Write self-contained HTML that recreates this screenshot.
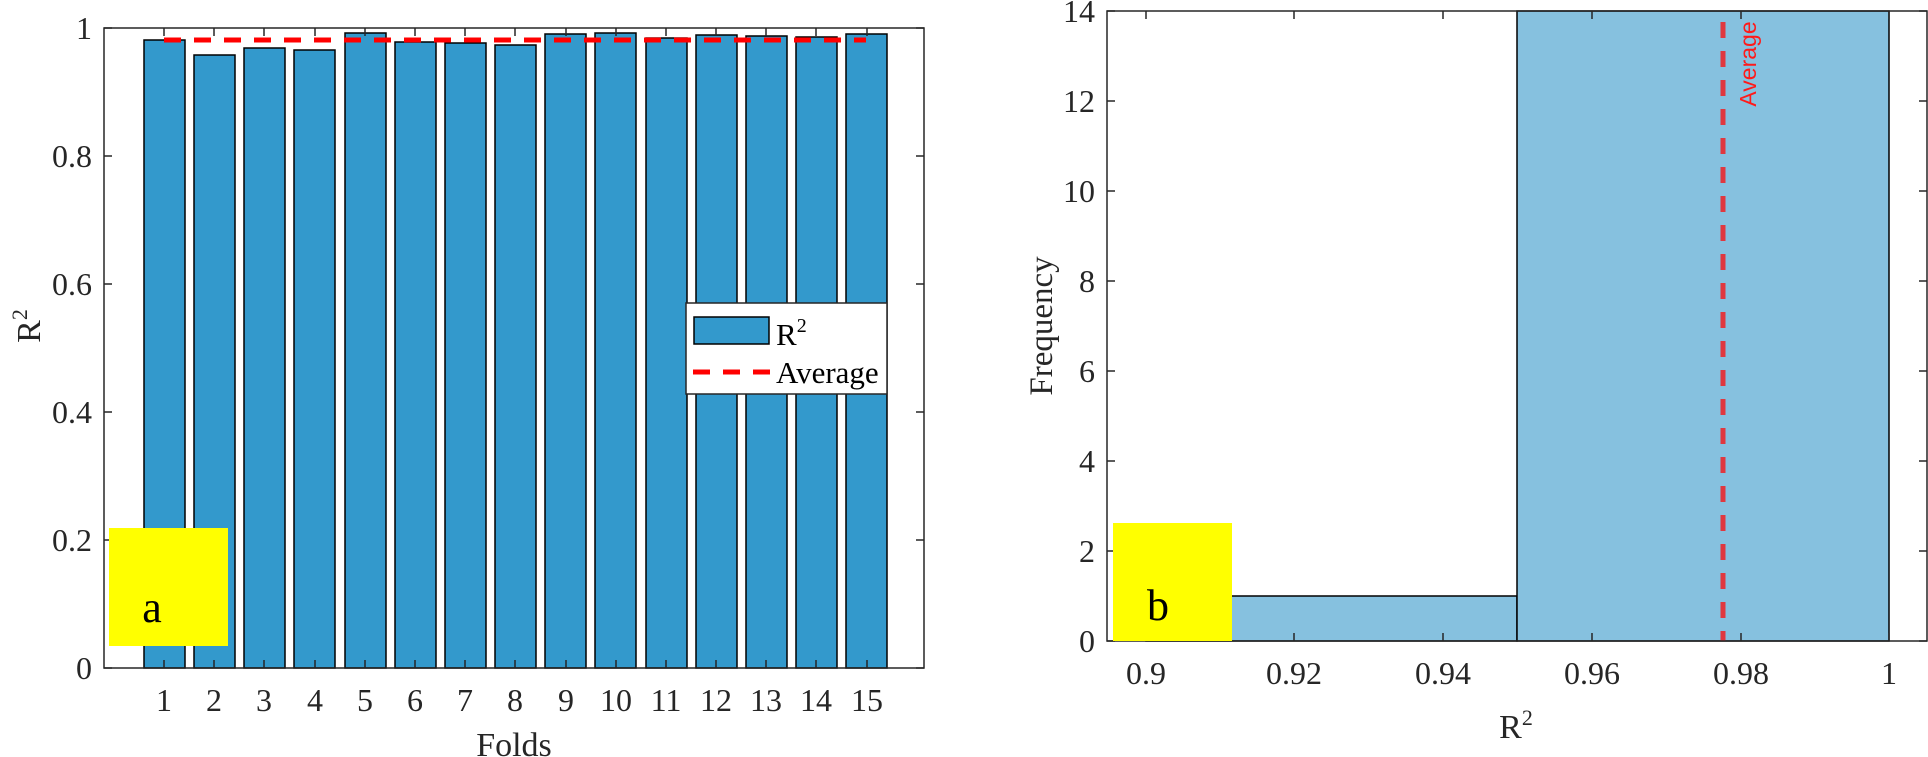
<!DOCTYPE html>
<html><head><meta charset="utf-8"><style>html,body{margin:0;padding:0;background:#fff}svg{display:block}</style></head>
<body>
<svg width="1928" height="757" viewBox="0 0 1928 757" xmlns="http://www.w3.org/2000/svg" font-family="Liberation Serif, serif" fill="#262626">
<!-- LEFT CHART -->
<g stroke="#000" stroke-width="1.5" fill="#3399cc">
<rect x="144" y="40" width="41" height="628"/>
<rect x="194" y="55" width="41" height="613"/>
<rect x="244" y="48" width="41" height="620"/>
<rect x="294" y="50" width="41" height="618"/>
<rect x="345" y="33" width="41" height="635"/>
<rect x="395" y="42" width="41" height="626"/>
<rect x="445" y="43" width="41" height="625"/>
<rect x="495" y="45" width="41" height="623"/>
<rect x="545" y="34" width="41" height="634"/>
<rect x="595" y="33" width="41" height="635"/>
<rect x="646" y="38" width="41" height="630"/>
<rect x="696" y="35" width="41" height="633"/>
<rect x="746" y="36" width="41" height="632"/>
<rect x="796" y="37" width="41" height="631"/>
<rect x="846" y="34" width="41" height="634"/>
</g>
<line x1="164" y1="40" x2="866" y2="40" stroke="#ff0000" stroke-width="5" stroke-dasharray="17,13"/>
<rect x="104" y="28" width="820" height="640" fill="none" stroke="#262626" stroke-width="1.5"/>
<g stroke="#262626" stroke-width="1.5">
<path d="M104 668h8M104 540h8M104 412h8M104 284h8M104 156h8M104 28h8M924 668h-8M924 540h-8M924 412h-8M924 284h-8M924 156h-8M924 28h-8"/>
<path d="M164 668v-8M214 668v-8M264 668v-8M315 668v-8M365 668v-8M415 668v-8M465 668v-8M515 668v-8M566 668v-8M616 668v-8M666 668v-8M716 668v-8M766 668v-8M816 668v-8M867 668v-8"/>
<path d="M164 28v8M214 28v8M264 28v8M315 28v8M365 28v8M415 28v8M465 28v8M515 28v8M566 28v8M616 28v8M666 28v8M716 28v8M766 28v8M816 28v8M867 28v8"/>
</g>
<g font-size="32" text-anchor="end">
<text x="92" y="679">0</text><text x="92" y="551">0.2</text><text x="92" y="423">0.4</text><text x="92" y="295">0.6</text><text x="92" y="167">0.8</text><text x="92" y="39">1</text>
</g>
<g font-size="32" text-anchor="middle">
<text x="164" y="711">1</text><text x="214" y="711">2</text><text x="264" y="711">3</text><text x="315" y="711">4</text><text x="365" y="711">5</text><text x="415" y="711">6</text><text x="465" y="711">7</text><text x="515" y="711">8</text><text x="566" y="711">9</text><text x="616" y="711">10</text><text x="666" y="711">11</text><text x="716" y="711">12</text><text x="766" y="711">13</text><text x="816" y="711">14</text><text x="867" y="711">15</text>
<text x="514" y="756" font-size="34">Folds</text>
</g>
<text transform="translate(40,326) rotate(-90)" font-size="34" text-anchor="middle">R<tspan font-size="22" dy="-13">2</tspan></text>
<!-- legend -->
<rect x="686" y="303" width="201" height="91" fill="#fff" stroke="#262626" stroke-width="1.5"/>
<rect x="694" y="317" width="75" height="27" fill="#3399cc" stroke="#000" stroke-width="1.5"/>
<line x1="693" y1="372" x2="770" y2="372" stroke="#ff0000" stroke-width="5" stroke-dasharray="17,13"/>
<text x="776" y="345" font-size="31" fill="#000">R<tspan font-size="20" dy="-13">2</tspan></text>
<text x="776" y="383" font-size="31" fill="#000">Average</text>
<rect x="109" y="528" width="119" height="118" fill="#ffff00"/>
<text x="152" y="622" font-size="44" fill="#000" text-anchor="middle">a</text>

<!-- RIGHT CHART -->
<rect x="1146" y="596" width="371" height="45" fill="#86c1df" stroke="#000" stroke-width="1.5"/>
<rect x="1517" y="11" width="372" height="630" fill="#86c1df" stroke="#000" stroke-width="1.5"/>
<line x1="1723" y1="22" x2="1723" y2="641" stroke="#e0383f" stroke-width="5" stroke-dasharray="16,13"/>
<text transform="translate(1756,64) rotate(-90)" font-family="Liberation Sans, sans-serif" font-size="23" fill="#ff1a1a" text-anchor="middle">Average</text>
<rect x="1107" y="11" width="820" height="630" fill="none" stroke="#262626" stroke-width="1.5"/>
<g stroke="#262626" stroke-width="1.5">
<path d="M1107 641h8M1107 551h8M1107 461h8M1107 371h8M1107 281h8M1107 191h8M1107 101h8M1107 11h8M1927 641h-8M1927 551h-8M1927 461h-8M1927 371h-8M1927 281h-8M1927 191h-8M1927 101h-8M1927 11h-8"/>
<path d="M1146 641v-8M1294 641v-8M1443 641v-8M1592 641v-8M1741 641v-8M1889 641v-8M1146 11v8M1294 11v8M1443 11v8M1592 11v8M1741 11v8M1889 11v8"/>
</g>
<g font-size="32" text-anchor="end">
<text x="1095" y="652">0</text><text x="1095" y="562">2</text><text x="1095" y="472">4</text><text x="1095" y="382">6</text><text x="1095" y="292">8</text><text x="1095" y="202">10</text><text x="1095" y="112">12</text><text x="1095" y="22">14</text>
</g>
<g font-size="32" text-anchor="middle">
<text x="1146" y="684">0.9</text><text x="1294" y="684">0.92</text><text x="1443" y="684">0.94</text><text x="1592" y="684">0.96</text><text x="1741" y="684">0.98</text><text x="1889" y="684">1</text>
<text x="1516" y="738" font-size="34">R<tspan font-size="22" dy="-13">2</tspan></text>
</g>
<text transform="translate(1052,326) rotate(-90)" font-size="33" text-anchor="middle">Frequency</text>
<rect x="1113" y="523" width="119" height="118" fill="#ffff00"/>
<text x="1158" y="620" font-size="44" fill="#000" text-anchor="middle">b</text>
</svg>
</body></html>
